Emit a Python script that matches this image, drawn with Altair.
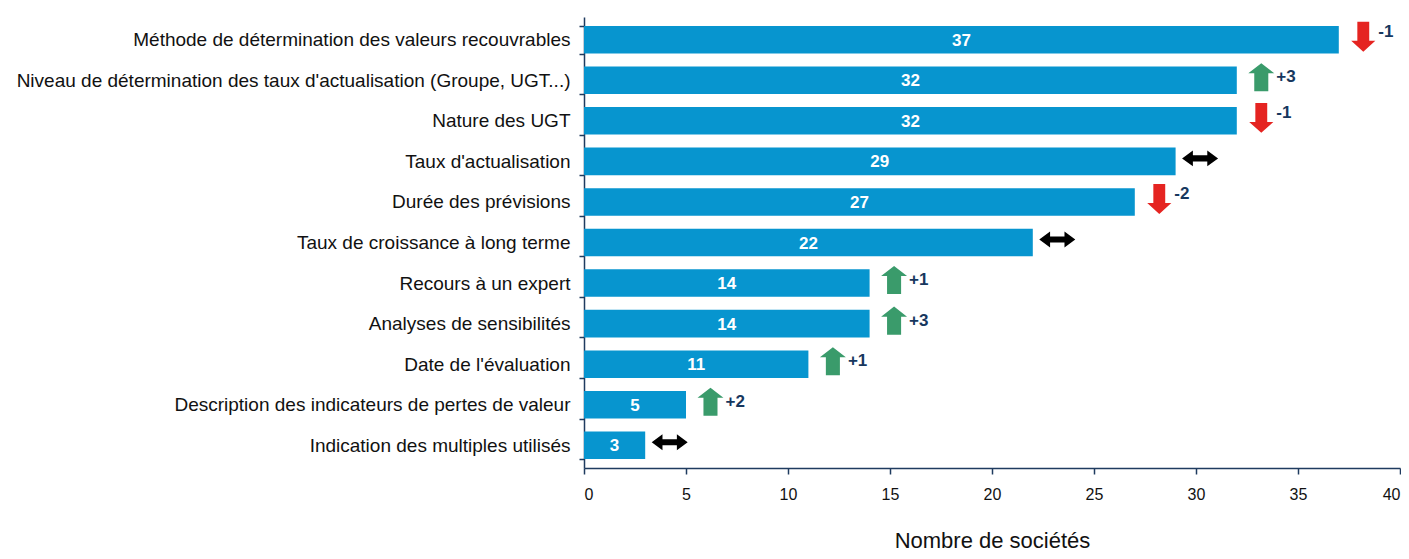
import altair as alt
import pandas as pd

categories = [
    "Méthode de détermination des valeurs recouvrables",
    "Niveau de détermination des taux d'actualisation (Groupe, UGT...)",
    "Nature des UGT",
    "Taux d'actualisation",
    "Durée des prévisions",
    "Taux de croissance à long terme",
    "Recours à un expert",
    "Analyses de sensibilités",
    "Date de l'évaluation",
    "Description des indicateurs de pertes de valeur",
    "Indication des multiples utilisés",
]
values = [37, 32, 32, 29, 27, 22, 14, 14, 11, 5, 3]
changes = ["-1", "+3", "-1", "", "-2", "", "+1", "+3", "+1", "+2", ""]
x_ticks = [0, 5, 10, 15, 20, 25, 30, 35, 40]


def kind(c):
    if c.startswith("-"):
        return "down"
    if c.startswith("+"):
        return "up"
    return "same"


df = pd.DataFrame({
    "cat": categories,
    "value": values,
    "change": changes,
    "kind": [kind(c) for c in changes],
})

FONT = "Liberation Sans"
AXIS_COLOR = "#1f3b5f"

UP = "M0,-0.78 L0.72,-0.22 L0.39,-0.22 L0.39,0.78 L-0.39,0.78 L-0.39,-0.22 L-0.72,-0.22 Z"
DOWN = "M0,0.83 L0.67,0.23 L0.33,0.23 L0.33,-0.83 L-0.33,-0.83 L-0.33,0.23 L-0.67,0.23 Z"
SAME = "M-1,0 L-0.4,-0.44 L-0.4,-0.17 L0.4,-0.17 L0.4,-0.44 L1,0 L0.4,0.44 L0.4,0.17 L-0.4,0.17 L-0.4,0.44 Z"

y_enc = alt.Y(
    "cat:N",
    sort=categories,
    title=None,
    scale=alt.Scale(paddingInner=0.32, paddingOuter=0.22),
    axis=alt.Axis(
        tickBand="extent",
        labelFont=FONT,
        labelFontSize=19,
        labelColor="#111111",
        labelPadding=9,
        labelLimit=800,
        domainColor=AXIS_COLOR,
        tickColor=AXIS_COLOR,
        domainWidth=1.5,
        tickWidth=1.5,
        tickSize=5,
    ),
)

x_scale = alt.Scale(domain=[0, 40], nice=False)

bars = alt.Chart(df).mark_bar(color="#0795cf").encode(
    x=alt.X(
        "value:Q",
        scale=x_scale,
        title="Nombre de sociétés",
        axis=alt.Axis(
            values=x_ticks,
            grid=False,
            labelFont=FONT,
            labelFontSize=16,
            labelColor="#111111",
            labelPadding=12,
            titleFont=FONT,
            titleFontSize=22,
            titleFontWeight="normal",
            titleColor="#111111",
            titlePadding=28,
            domainColor=AXIS_COLOR,
            tickColor=AXIS_COLOR,
            domainWidth=1.5,
            tickWidth=1.5,
            tickSize=6,
        ),
    ),
    y=y_enc,
)

bar_labels = alt.Chart(df).transform_calculate(
    mid="datum.value / 2"
).mark_text(
    font=FONT, fontSize=17, fontWeight="bold", color="white", dy=1
).encode(
    x=alt.X("mid:Q", scale=x_scale),
    y=alt.Y("cat:N", sort=categories),
    text="value:Q",
)

arrows = alt.Chart(df).transform_calculate(
    ax="datum.value + 1.2"
).mark_point(filled=True, size=1296, opacity=1, strokeWidth=0, yOffset=-3).encode(
    x=alt.X("ax:Q", scale=x_scale),
    y=alt.Y("cat:N", sort=categories),
    shape=alt.Shape("kind:N", scale=alt.Scale(domain=["up", "down", "same"], range=[UP, DOWN, SAME]), legend=None),
    color=alt.Color("kind:N", scale=alt.Scale(domain=["up", "down", "same"], range=["#3a9b6b", "#e52421", "#000000"]), legend=None),
)


def change_labels(k, dy):
    return alt.Chart(df).transform_filter(
        alt.datum.kind == k
    ).transform_calculate(
        ax="datum.value + 1.2"
    ).mark_text(
        font=FONT, fontSize=17, fontWeight="bold", color="#17375e", align="left", dx=15, dy=dy
    ).encode(
        x=alt.X("ax:Q", scale=x_scale),
        y=alt.Y("cat:N", sort=categories),
        text="change:N",
    )


chart = alt.layer(
    bars, bar_labels, arrows, change_labels("up", -3), change_labels("down", -8)
).properties(
    width=1393, height=543,
    padding={"top": 0, "left": 8, "right": 0, "bottom": 0},
    autosize=alt.AutoSizeParams(type="fit", contains="padding"),
).configure_view(stroke=None)

chart.save("out.html", embed_options={"renderer": "svg", "actions": False})
